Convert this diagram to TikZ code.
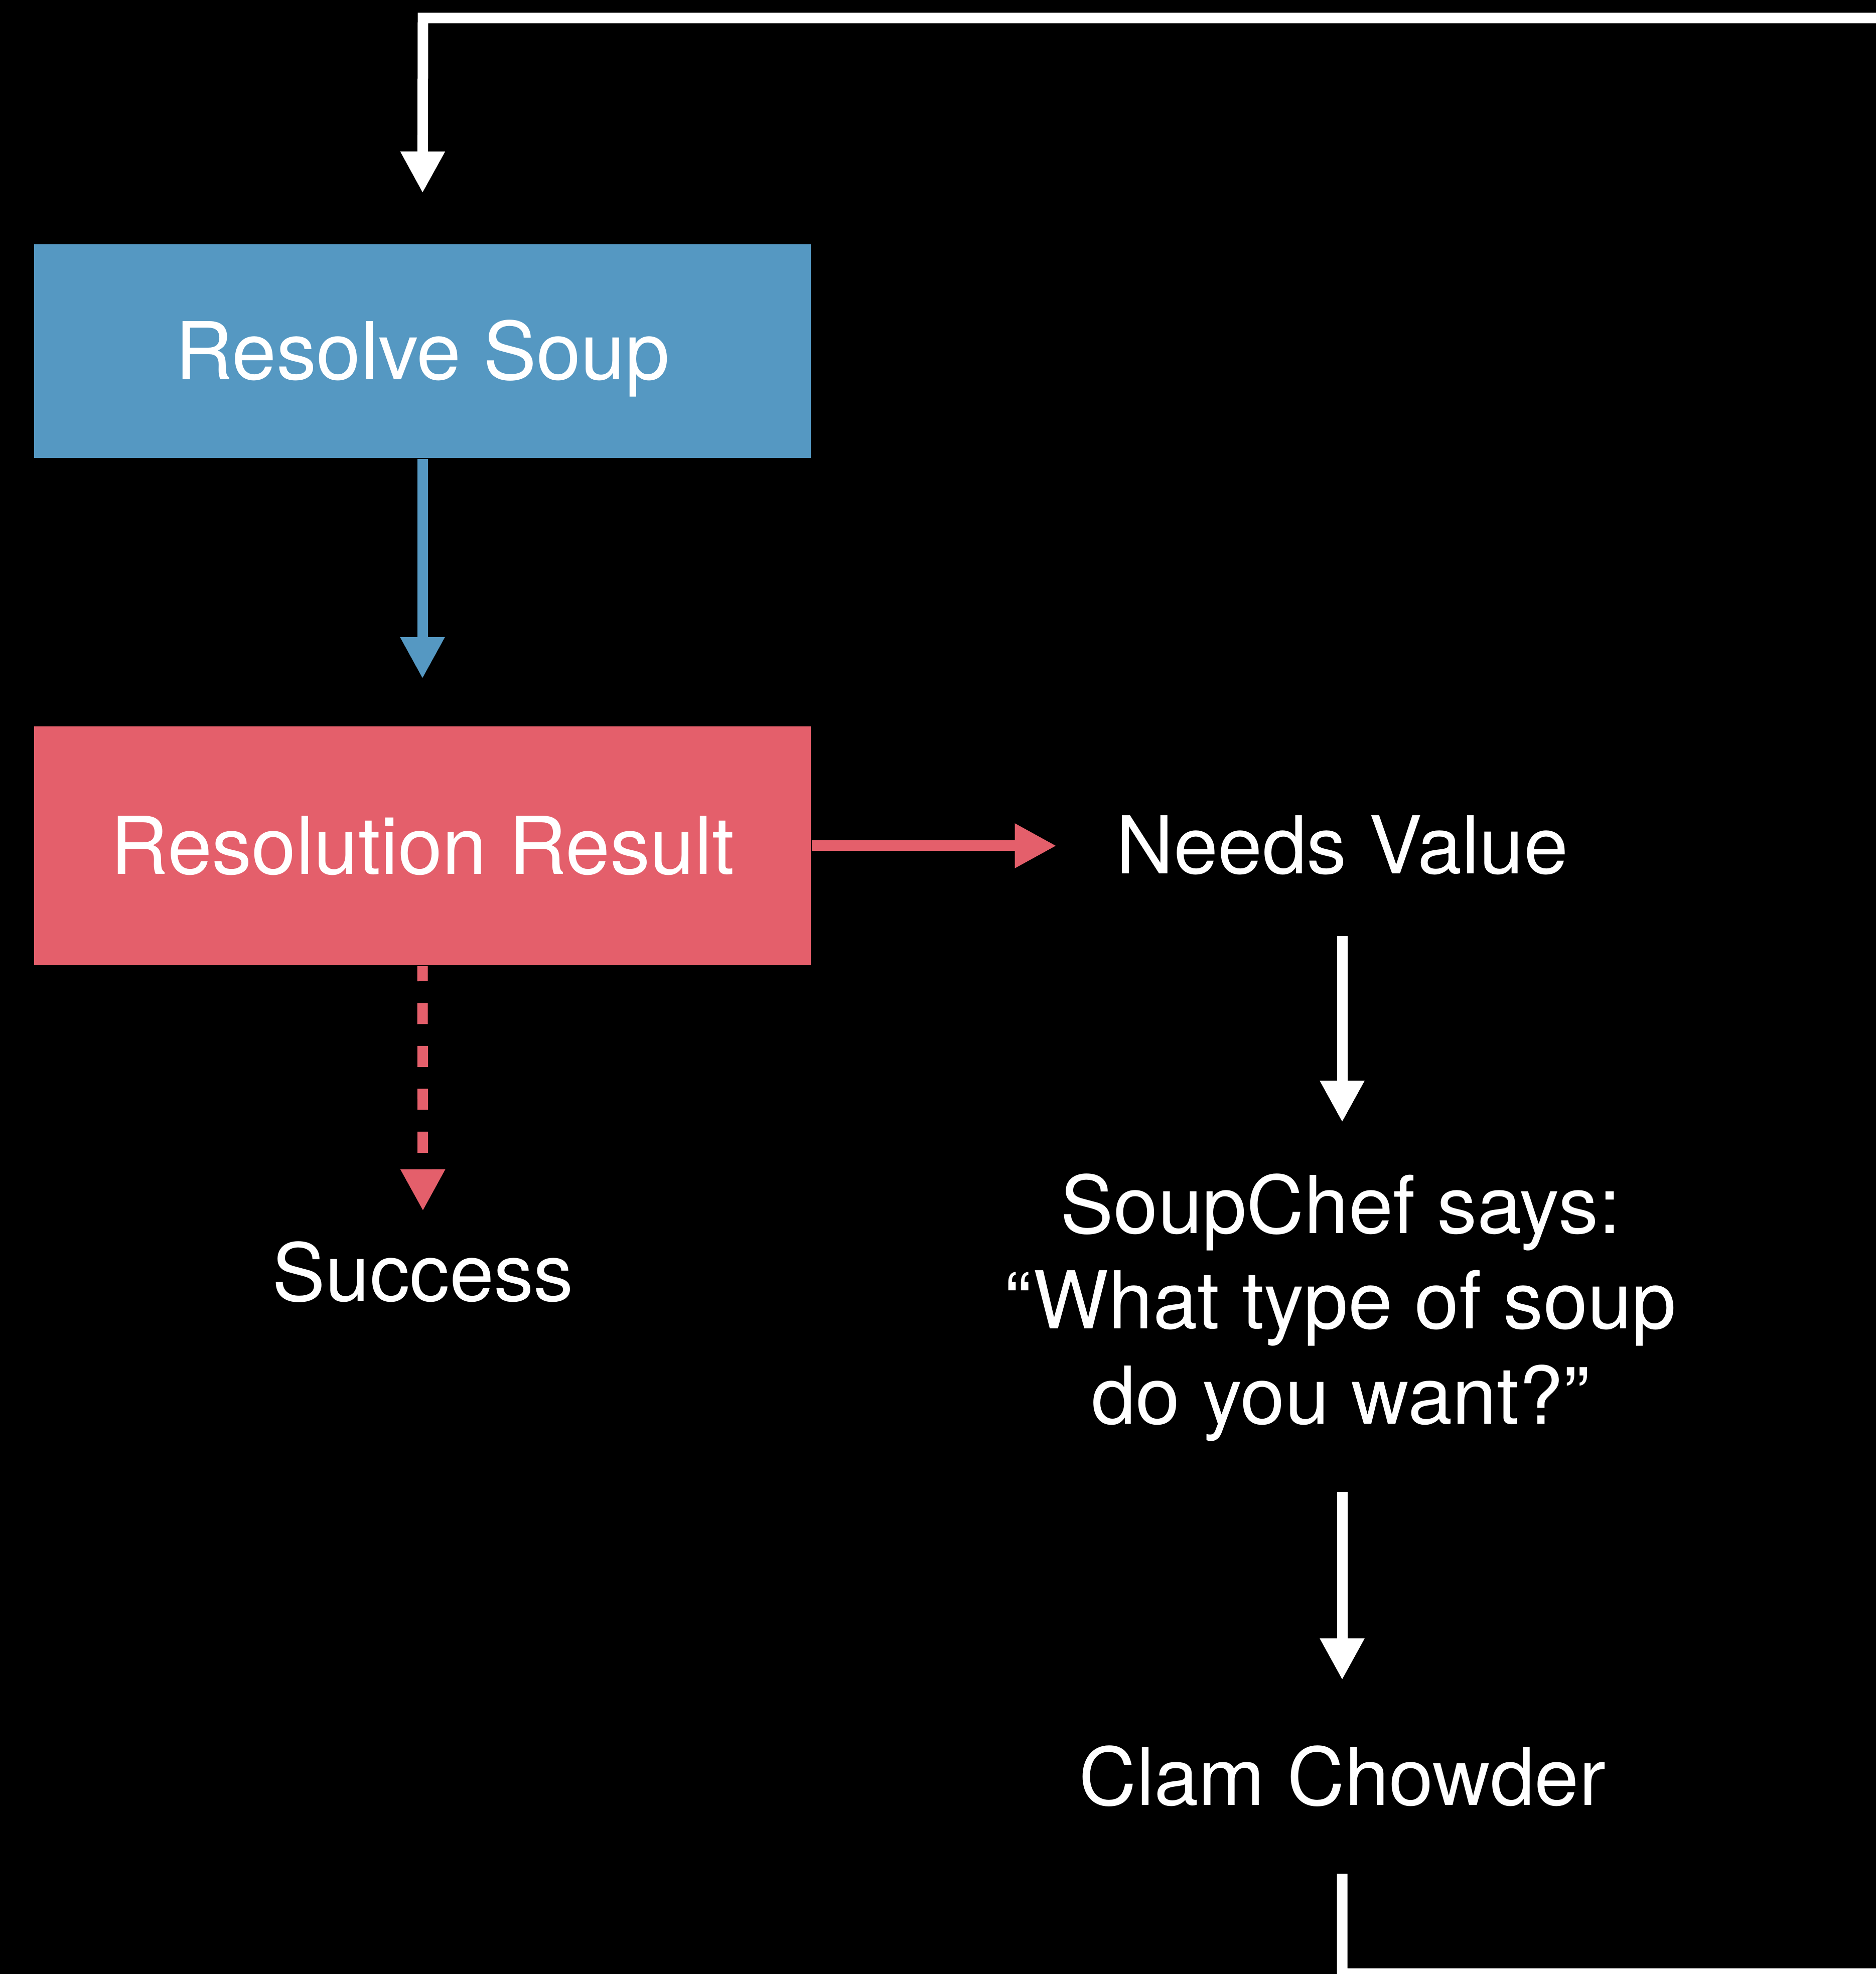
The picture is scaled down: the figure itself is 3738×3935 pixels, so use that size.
\documentclass[tikz,border=0pt]{standalone}
\usepackage{fontspec}
\setmainfont{TeX Gyre Heros}
\usetikzlibrary{arrows.meta}
\definecolor{sblue}{RGB}{85,152,194}
\definecolor{sred}{RGB}{228,95,107}
\begin{document}
\begin{tikzpicture}[x=0.1pt,y=-0.1pt,
  txt/.style={inner sep=0pt, text=white, font=\fontsize{15.9}{19}\selectfont},
  one/.style={txt, text height=11.4pt, text depth=0pt},
  box/.style={one, rectangle, minimum width=154.8pt, anchor=center},
  conn/.style={line width=2.1pt, line join=miter, -{Triangle[length=8.3pt,width=8.3pt]}}]
\useasboundingbox (0,0) rectangle (3738,3935);
\fill[black] (-100,-100) rectangle (3838,4035);
\clip (-60,-60) rectangle (3790,3995);

\node[box, fill=sblue, minimum height=42.6pt] (rs) at (842,700) {Resolve Soup};
\node[box, fill=sred, minimum height=47.6pt] (rr) at (842,1686) {Resolution Result};
\node[one, anchor=base] (nv) at (2675,1742) {Needs Value};
\node[one, anchor=base] (su) at (843,2593) {Success};
\node[txt, align=center, anchor=base] (sc) at (2672,2838) {SoupChef says:\\“What type of soup\\do you want?”};
\node[one, anchor=base] (cc) at (2675,3598) {Clam Chowder};

\draw[conn, sblue, shorten >=9.3pt] (rs.south) -- (rr.north);
\draw[conn, sred, shorten >=11.7pt] (rr.east) -- (rr.east -| nv.west);
\draw[conn, sred, dash pattern=on 4.2pt off 4.35pt, dash phase=1.2pt, shorten >=6.3pt] (rr.south) -- (su.north);
\draw[conn, white, shorten <=12.2pt, shorten >=10pt] (nv.south) -- (nv.south |- sc.north);
\draw[conn, white, shorten <=9.9pt, shorten >=13.3pt] (sc.south -| cc.south) -- (cc.north);
\draw[conn, white, shorten >=10pt] (cc.south) ++(0,135) |- (3900,3934) |- (843,36) -- (rs.north);
\end{tikzpicture}
\end{document}
